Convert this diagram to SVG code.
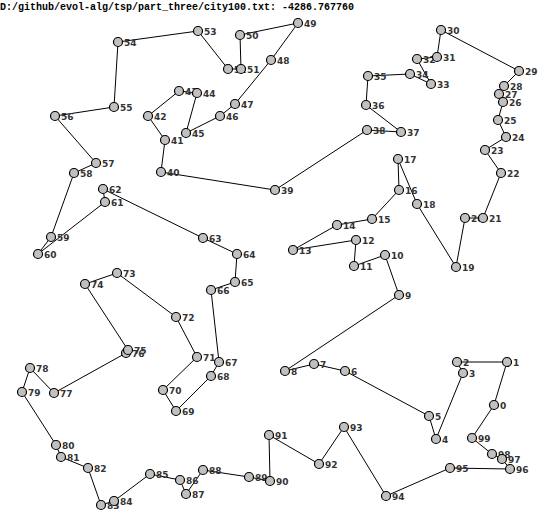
<svg xmlns="http://www.w3.org/2000/svg" width="539" height="525" viewBox="0 0 539 525">
<style>
.bg{fill:#fff}
.title{font-family:"Liberation Mono","DejaVu Sans Mono",monospace;font-weight:bold;font-size:10px;fill:#000}
#edges line{stroke:#000;stroke-width:1}
.n circle{fill:#c0c0c0;stroke:#000;stroke-width:1.2}
.n text{font-family:"DejaVu Sans","Liberation Sans",sans-serif;font-weight:bold;font-size:9px;fill:#333}
</style>
<rect class="bg" x="0" y="0" width="539" height="525"/>
<text class="title" x="0" y="10">D:/github/evol-alg/tsp/part_three/city100.txt: -4286.767760</text>
<g id="edges">
<line x1="494" y1="405" x2="507" y2="362"/>
<line x1="507" y1="362" x2="457" y2="362"/>
<line x1="457" y1="362" x2="463" y2="373"/>
<line x1="463" y1="373" x2="436" y2="439"/>
<line x1="436" y1="439" x2="429" y2="416"/>
<line x1="429" y1="416" x2="345" y2="371"/>
<line x1="345" y1="371" x2="314" y2="364"/>
<line x1="314" y1="364" x2="285" y2="371"/>
<line x1="285" y1="371" x2="399" y2="295"/>
<line x1="399" y1="295" x2="385" y2="255"/>
<line x1="385" y1="255" x2="354" y2="266"/>
<line x1="354" y1="266" x2="356" y2="240"/>
<line x1="356" y1="240" x2="293" y2="250"/>
<line x1="293" y1="250" x2="337" y2="225"/>
<line x1="337" y1="225" x2="372" y2="219"/>
<line x1="372" y1="219" x2="399" y2="190"/>
<line x1="399" y1="190" x2="398" y2="159"/>
<line x1="398" y1="159" x2="417" y2="204"/>
<line x1="417" y1="204" x2="456" y2="267"/>
<line x1="456" y1="267" x2="465" y2="218"/>
<line x1="465" y1="218" x2="483" y2="218"/>
<line x1="483" y1="218" x2="501" y2="173"/>
<line x1="501" y1="173" x2="485" y2="150"/>
<line x1="485" y1="150" x2="506" y2="137"/>
<line x1="506" y1="137" x2="498" y2="120"/>
<line x1="498" y1="120" x2="503" y2="102"/>
<line x1="503" y1="102" x2="499" y2="94"/>
<line x1="499" y1="94" x2="504" y2="86"/>
<line x1="504" y1="86" x2="519" y2="71"/>
<line x1="519" y1="71" x2="441" y2="30"/>
<line x1="441" y1="30" x2="437" y2="57"/>
<line x1="437" y1="57" x2="417" y2="59"/>
<line x1="417" y1="59" x2="431" y2="84"/>
<line x1="431" y1="84" x2="410" y2="74"/>
<line x1="410" y1="74" x2="368" y2="76"/>
<line x1="368" y1="76" x2="366" y2="105"/>
<line x1="366" y1="105" x2="401" y2="132"/>
<line x1="401" y1="132" x2="367" y2="130"/>
<line x1="367" y1="130" x2="275" y2="190"/>
<line x1="275" y1="190" x2="161" y2="172"/>
<line x1="161" y1="172" x2="165" y2="140"/>
<line x1="165" y1="140" x2="148" y2="116"/>
<line x1="148" y1="116" x2="179" y2="91"/>
<line x1="179" y1="91" x2="197" y2="93"/>
<line x1="197" y1="93" x2="186" y2="133"/>
<line x1="186" y1="133" x2="220" y2="116"/>
<line x1="220" y1="116" x2="235" y2="104"/>
<line x1="235" y1="104" x2="271" y2="60"/>
<line x1="271" y1="60" x2="298" y2="23"/>
<line x1="298" y1="23" x2="240" y2="35"/>
<line x1="240" y1="35" x2="241" y2="69"/>
<line x1="241" y1="69" x2="228" y2="69"/>
<line x1="228" y1="69" x2="198" y2="31"/>
<line x1="198" y1="31" x2="118" y2="42"/>
<line x1="118" y1="42" x2="114" y2="107"/>
<line x1="114" y1="107" x2="55" y2="116"/>
<line x1="55" y1="116" x2="96" y2="163"/>
<line x1="96" y1="163" x2="74" y2="173"/>
<line x1="74" y1="173" x2="51" y2="237"/>
<line x1="51" y1="237" x2="38" y2="254"/>
<line x1="38" y1="254" x2="105" y2="202"/>
<line x1="105" y1="202" x2="103" y2="189"/>
<line x1="103" y1="189" x2="203" y2="238"/>
<line x1="203" y1="238" x2="237" y2="254"/>
<line x1="237" y1="254" x2="235" y2="282"/>
<line x1="235" y1="282" x2="211" y2="290"/>
<line x1="211" y1="290" x2="219" y2="362"/>
<line x1="219" y1="362" x2="211" y2="376"/>
<line x1="211" y1="376" x2="176" y2="411"/>
<line x1="176" y1="411" x2="163" y2="390"/>
<line x1="163" y1="390" x2="197" y2="357"/>
<line x1="197" y1="357" x2="176" y2="317"/>
<line x1="176" y1="317" x2="117" y2="273"/>
<line x1="117" y1="273" x2="85" y2="284"/>
<line x1="85" y1="284" x2="128" y2="350"/>
<line x1="128" y1="350" x2="126" y2="353"/>
<line x1="126" y1="353" x2="54" y2="393"/>
<line x1="54" y1="393" x2="30" y2="368"/>
<line x1="30" y1="368" x2="22" y2="392"/>
<line x1="22" y1="392" x2="56" y2="445"/>
<line x1="56" y1="445" x2="61" y2="457"/>
<line x1="61" y1="457" x2="88" y2="468"/>
<line x1="88" y1="468" x2="101" y2="505"/>
<line x1="101" y1="505" x2="114" y2="501"/>
<line x1="114" y1="501" x2="150" y2="474"/>
<line x1="150" y1="474" x2="180" y2="480"/>
<line x1="180" y1="480" x2="186" y2="494"/>
<line x1="186" y1="494" x2="203" y2="470"/>
<line x1="203" y1="470" x2="249" y2="477"/>
<line x1="249" y1="477" x2="270" y2="481"/>
<line x1="270" y1="481" x2="269" y2="435"/>
<line x1="269" y1="435" x2="319" y2="464"/>
<line x1="319" y1="464" x2="344" y2="427"/>
<line x1="344" y1="427" x2="386" y2="496"/>
<line x1="386" y1="496" x2="450" y2="468"/>
<line x1="450" y1="468" x2="510" y2="469"/>
<line x1="510" y1="469" x2="502" y2="459"/>
<line x1="502" y1="459" x2="492" y2="454"/>
<line x1="492" y1="454" x2="472" y2="438"/>
<line x1="472" y1="438" x2="494" y2="405"/>
</g>
<g id="nodes">
<g id="n0" class="n"><circle cx="494" cy="405" r="4.5"/><text x="500" y="408.5">0</text></g>
<g id="n1" class="n"><circle cx="507" cy="362" r="4.5"/><text x="513" y="365.5">1</text></g>
<g id="n2" class="n"><circle cx="457" cy="362" r="4.5"/><text x="463" y="365.5">2</text></g>
<g id="n3" class="n"><circle cx="463" cy="373" r="4.5"/><text x="469" y="376.5">3</text></g>
<g id="n4" class="n"><circle cx="436" cy="439" r="4.5"/><text x="442" y="442.5">4</text></g>
<g id="n5" class="n"><circle cx="429" cy="416" r="4.5"/><text x="435" y="419.5">5</text></g>
<g id="n6" class="n"><circle cx="345" cy="371" r="4.5"/><text x="351" y="374.5">6</text></g>
<g id="n7" class="n"><circle cx="314" cy="364" r="4.5"/><text x="320" y="367.5">7</text></g>
<g id="n8" class="n"><circle cx="285" cy="371" r="4.5"/><text x="291" y="374.5">8</text></g>
<g id="n9" class="n"><circle cx="399" cy="295" r="4.5"/><text x="405" y="298.5">9</text></g>
<g id="n10" class="n"><circle cx="385" cy="255" r="4.5"/><text x="391" y="258.5">10</text></g>
<g id="n11" class="n"><circle cx="354" cy="266" r="4.5"/><text x="360" y="269.5">11</text></g>
<g id="n12" class="n"><circle cx="356" cy="240" r="4.5"/><text x="362" y="243.5">12</text></g>
<g id="n13" class="n"><circle cx="293" cy="250" r="4.5"/><text x="299" y="253.5">13</text></g>
<g id="n14" class="n"><circle cx="337" cy="225" r="4.5"/><text x="343" y="228.5">14</text></g>
<g id="n15" class="n"><circle cx="372" cy="219" r="4.5"/><text x="378" y="222.5">15</text></g>
<g id="n16" class="n"><circle cx="399" cy="190" r="4.5"/><text x="405" y="193.5">16</text></g>
<g id="n17" class="n"><circle cx="398" cy="159" r="4.5"/><text x="404" y="162.5">17</text></g>
<g id="n18" class="n"><circle cx="417" cy="204" r="4.5"/><text x="423" y="207.5">18</text></g>
<g id="n19" class="n"><circle cx="456" cy="267" r="4.5"/><text x="462" y="270.5">19</text></g>
<g id="n20" class="n"><circle cx="465" cy="218" r="4.5"/><text x="471" y="221.5">20</text></g>
<g id="n21" class="n"><circle cx="483" cy="218" r="4.5"/><text x="489" y="221.5">21</text></g>
<g id="n22" class="n"><circle cx="501" cy="173" r="4.5"/><text x="507" y="176.5">22</text></g>
<g id="n23" class="n"><circle cx="485" cy="150" r="4.5"/><text x="491" y="153.5">23</text></g>
<g id="n24" class="n"><circle cx="506" cy="137" r="4.5"/><text x="512" y="140.5">24</text></g>
<g id="n25" class="n"><circle cx="498" cy="120" r="4.5"/><text x="504" y="123.5">25</text></g>
<g id="n27" class="n"><circle cx="499" cy="94" r="4.5"/><text x="505" y="97.5">27</text></g>
<g id="n26" class="n"><circle cx="503" cy="102" r="4.5"/><text x="509" y="105.5">26</text></g>
<g id="n28" class="n"><circle cx="504" cy="86" r="4.5"/><text x="510" y="89.5">28</text></g>
<g id="n29" class="n"><circle cx="519" cy="71" r="4.5"/><text x="525" y="74.5">29</text></g>
<g id="n30" class="n"><circle cx="441" cy="30" r="4.5"/><text x="447" y="33.5">30</text></g>
<g id="n32" class="n"><circle cx="417" cy="59" r="4.5"/><text x="423" y="62.5">32</text></g>
<g id="n31" class="n"><circle cx="437" cy="57" r="4.5"/><text x="443" y="60.5">31</text></g>
<g id="n33" class="n"><circle cx="431" cy="84" r="4.5"/><text x="437" y="87.5">33</text></g>
<g id="n34" class="n"><circle cx="410" cy="74" r="4.5"/><text x="416" y="77.5">34</text></g>
<g id="n35" class="n"><circle cx="368" cy="76" r="4.5"/><text x="374" y="79.5">35</text></g>
<g id="n36" class="n"><circle cx="366" cy="105" r="4.5"/><text x="372" y="108.5">36</text></g>
<g id="n37" class="n"><circle cx="401" cy="132" r="4.5"/><text x="407" y="135.5">37</text></g>
<g id="n38" class="n"><circle cx="367" cy="130" r="4.5"/><text x="373" y="133.5">38</text></g>
<g id="n39" class="n"><circle cx="275" cy="190" r="4.5"/><text x="281" y="193.5">39</text></g>
<g id="n40" class="n"><circle cx="161" cy="172" r="4.5"/><text x="167" y="175.5">40</text></g>
<g id="n41" class="n"><circle cx="165" cy="140" r="4.5"/><text x="171" y="143.5">41</text></g>
<g id="n42" class="n"><circle cx="148" cy="116" r="4.5"/><text x="154" y="119.5">42</text></g>
<g id="n43" class="n"><circle cx="179" cy="91" r="4.5"/><text x="185" y="94.5">43</text></g>
<g id="n44" class="n"><circle cx="197" cy="93" r="4.5"/><text x="203" y="96.5">44</text></g>
<g id="n45" class="n"><circle cx="186" cy="133" r="4.5"/><text x="192" y="136.5">45</text></g>
<g id="n46" class="n"><circle cx="220" cy="116" r="4.5"/><text x="226" y="119.5">46</text></g>
<g id="n47" class="n"><circle cx="235" cy="104" r="4.5"/><text x="241" y="107.5">47</text></g>
<g id="n48" class="n"><circle cx="271" cy="60" r="4.5"/><text x="277" y="63.5">48</text></g>
<g id="n49" class="n"><circle cx="298" cy="23" r="4.5"/><text x="304" y="26.5">49</text></g>
<g id="n50" class="n"><circle cx="240" cy="35" r="4.5"/><text x="246" y="38.5">50</text></g>
<g id="n52" class="n"><circle cx="228" cy="69" r="4.5"/><text x="234" y="72.5">52</text></g>
<g id="n51" class="n"><circle cx="241" cy="69" r="4.5"/><text x="247" y="72.5">51</text></g>
<g id="n53" class="n"><circle cx="198" cy="31" r="4.5"/><text x="204" y="34.5">53</text></g>
<g id="n54" class="n"><circle cx="118" cy="42" r="4.5"/><text x="124" y="45.5">54</text></g>
<g id="n55" class="n"><circle cx="114" cy="107" r="4.5"/><text x="120" y="110.5">55</text></g>
<g id="n56" class="n"><circle cx="55" cy="116" r="4.5"/><text x="61" y="119.5">56</text></g>
<g id="n57" class="n"><circle cx="96" cy="163" r="4.5"/><text x="102" y="166.5">57</text></g>
<g id="n58" class="n"><circle cx="74" cy="173" r="4.5"/><text x="80" y="176.5">58</text></g>
<g id="n59" class="n"><circle cx="51" cy="237" r="4.5"/><text x="57" y="240.5">59</text></g>
<g id="n60" class="n"><circle cx="38" cy="254" r="4.5"/><text x="44" y="257.5">60</text></g>
<g id="n61" class="n"><circle cx="105" cy="202" r="4.5"/><text x="111" y="205.5">61</text></g>
<g id="n62" class="n"><circle cx="103" cy="189" r="4.5"/><text x="109" y="192.5">62</text></g>
<g id="n63" class="n"><circle cx="203" cy="238" r="4.5"/><text x="209" y="241.5">63</text></g>
<g id="n64" class="n"><circle cx="237" cy="254" r="4.5"/><text x="243" y="257.5">64</text></g>
<g id="n65" class="n"><circle cx="235" cy="282" r="4.5"/><text x="241" y="285.5">65</text></g>
<g id="n66" class="n"><circle cx="211" cy="290" r="4.5"/><text x="217" y="293.5">66</text></g>
<g id="n67" class="n"><circle cx="219" cy="362" r="4.5"/><text x="225" y="365.5">67</text></g>
<g id="n68" class="n"><circle cx="211" cy="376" r="4.5"/><text x="217" y="379.5">68</text></g>
<g id="n69" class="n"><circle cx="176" cy="411" r="4.5"/><text x="182" y="414.5">69</text></g>
<g id="n70" class="n"><circle cx="163" cy="390" r="4.5"/><text x="169" y="393.5">70</text></g>
<g id="n71" class="n"><circle cx="197" cy="357" r="4.5"/><text x="203" y="360.5">71</text></g>
<g id="n72" class="n"><circle cx="176" cy="317" r="4.5"/><text x="182" y="320.5">72</text></g>
<g id="n73" class="n"><circle cx="117" cy="273" r="4.5"/><text x="123" y="276.5">73</text></g>
<g id="n74" class="n"><circle cx="85" cy="284" r="4.5"/><text x="91" y="287.5">74</text></g>
<g id="n76" class="n"><circle cx="126" cy="353" r="4.5"/><text x="132" y="356.5">76</text></g>
<g id="n75" class="n"><circle cx="128" cy="350" r="4.5"/><text x="134" y="353.5">75</text></g>
<g id="n77" class="n"><circle cx="54" cy="393" r="4.5"/><text x="60" y="396.5">77</text></g>
<g id="n78" class="n"><circle cx="30" cy="368" r="4.5"/><text x="36" y="371.5">78</text></g>
<g id="n79" class="n"><circle cx="22" cy="392" r="4.5"/><text x="28" y="395.5">79</text></g>
<g id="n80" class="n"><circle cx="56" cy="445" r="4.5"/><text x="62" y="448.5">80</text></g>
<g id="n81" class="n"><circle cx="61" cy="457" r="4.5"/><text x="67" y="460.5">81</text></g>
<g id="n82" class="n"><circle cx="88" cy="468" r="4.5"/><text x="94" y="471.5">82</text></g>
<g id="n83" class="n"><circle cx="101" cy="505" r="4.5"/><text x="107" y="508.5">83</text></g>
<g id="n84" class="n"><circle cx="114" cy="501" r="4.5"/><text x="120" y="504.5">84</text></g>
<g id="n85" class="n"><circle cx="150" cy="474" r="4.5"/><text x="156" y="477.5">85</text></g>
<g id="n86" class="n"><circle cx="180" cy="480" r="4.5"/><text x="186" y="483.5">86</text></g>
<g id="n87" class="n"><circle cx="186" cy="494" r="4.5"/><text x="192" y="497.5">87</text></g>
<g id="n88" class="n"><circle cx="203" cy="470" r="4.5"/><text x="209" y="473.5">88</text></g>
<g id="n89" class="n"><circle cx="249" cy="477" r="4.5"/><text x="255" y="480.5">89</text></g>
<g id="n90" class="n"><circle cx="270" cy="481" r="4.5"/><text x="276" y="484.5">90</text></g>
<g id="n91" class="n"><circle cx="269" cy="435" r="4.5"/><text x="275" y="438.5">91</text></g>
<g id="n92" class="n"><circle cx="319" cy="464" r="4.5"/><text x="325" y="467.5">92</text></g>
<g id="n93" class="n"><circle cx="344" cy="427" r="4.5"/><text x="350" y="430.5">93</text></g>
<g id="n94" class="n"><circle cx="386" cy="496" r="4.5"/><text x="392" y="499.5">94</text></g>
<g id="n95" class="n"><circle cx="450" cy="468" r="4.5"/><text x="456" y="471.5">95</text></g>
<g id="n96" class="n"><circle cx="510" cy="469" r="4.5"/><text x="516" y="472.5">96</text></g>
<g id="n98" class="n"><circle cx="492" cy="454" r="4.5"/><text x="498" y="457.5">98</text></g>
<g id="n97" class="n"><circle cx="502" cy="459" r="4.5"/><text x="508" y="462.5">97</text></g>
<g id="n99" class="n"><circle cx="472" cy="438" r="4.5"/><text x="478" y="441.5">99</text></g>
</g>
</svg>
